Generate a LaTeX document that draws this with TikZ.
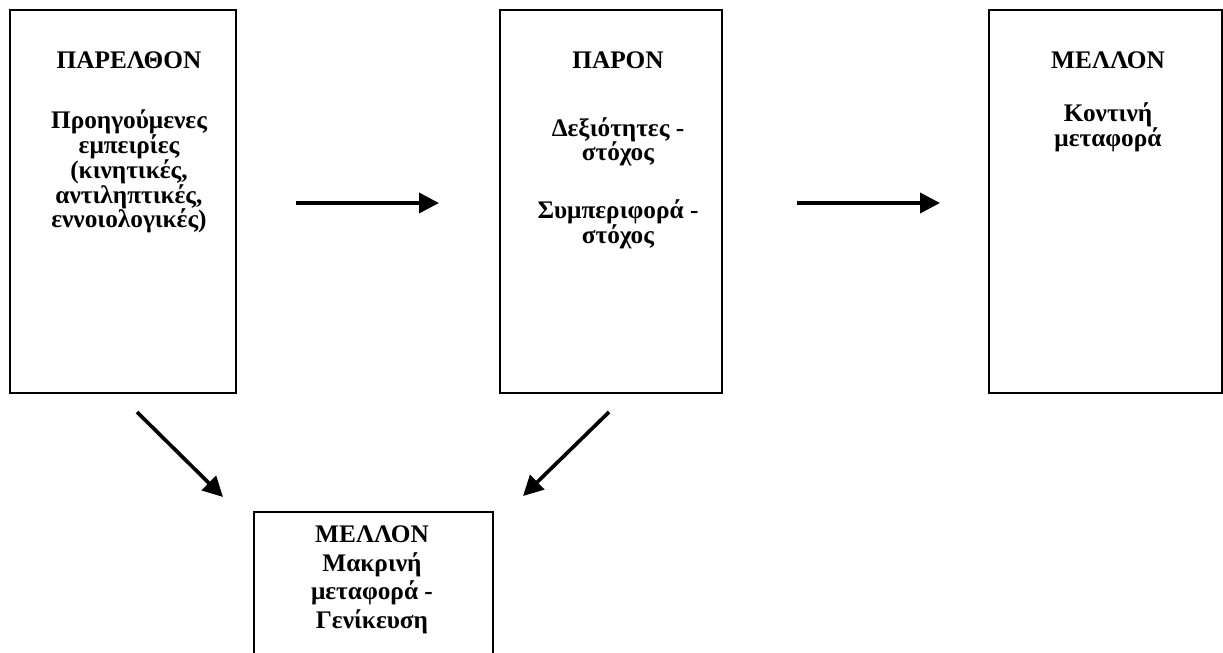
\documentclass[tikz,border=0pt]{standalone}
\usepackage{fontspec}
\setmainfont{Liberation Serif}
\usetikzlibrary{arrows.meta,positioning}

\tikzset{
  box/.style={draw, line width=1.5pt, inner sep=0pt},
  txt/.style={font=\fontsize{18}{17.6}\selectfont\bfseries, align=center, anchor=north, inner sep=0pt},
  flow/.style={line width=2.6pt, -{Triangle[length=0.5cm,width=0.5cm]}}
}

\begin{document}
\begin{tikzpicture}[x=0.025cm, y=-0.025cm]
\clip (0,0) rectangle (1223,652);

\node[box, minimum width=5.65cm, minimum height=9.575cm] (past) at (123,201.5) {};
\node[box, minimum width=5.55cm, minimum height=9.575cm] (present) at (611,201.5) {};
\node[box, minimum width=5.825cm, minimum height=9.575cm] (near) at (1105.5,201.5) {};
\node[box, minimum width=5.975cm, minimum height=4.5cm] (far) at (373.5,602) {};

\node[txt] (pasttxt) at (129,51) {ΠΑΡΕΛΘΟΝ\\[0.9cm] Προηγούμενες\\ εμπειρίες\\ (κινητικές,\\ αντιληπτικές,\\ εννοιολογικές)};
\node[txt] (presenttxt) at (618,51) {ΠΑΡΟΝ\\[1.08cm] Δεξιότητες -\\ στόχος\\[0.83cm] Συμπεριφορά -\\ στόχος};
\node[txt] (neartxt) at (1108,51) {ΜΕΛΛΟΝ\\[0.72cm] Κοντινή\\ μεταφορά};
\node[txt] (fartxt) at (372,525) {ΜΕΛΛΟΝ\\[3pt] Μακρινή\\[3pt] μεταφορά -\\[3pt] Γενίκευση};

% arrow ends
\coordinate (a1) at (296,203);
\coordinate (b1) at (439,203);
\coordinate (a2) at (797,203);
\coordinate (b2) at (940,203);
\coordinate (c1) at (137,412);
\coordinate (d1) at (223,497);
\coordinate (c2) at (609,412);
\coordinate (d2) at (523,496);

\draw[flow] (a1) -- (b1);
\draw[flow] (a2) -- (b2);
\draw[flow] (c1) -- (d1);
\draw[flow] (c2) -- (d2);
\end{tikzpicture}
\end{document}
